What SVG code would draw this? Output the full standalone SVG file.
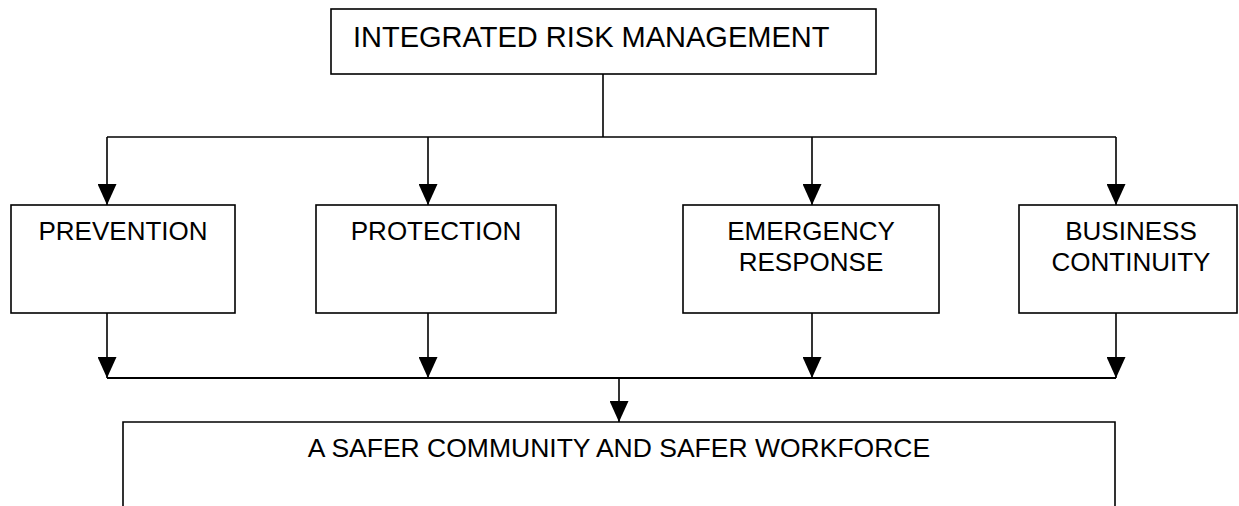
<svg xmlns="http://www.w3.org/2000/svg" width="1239" height="506" viewBox="0 0 1239 506">
  <style>
    .box { fill: #ffffff; stroke: #000000; stroke-width: 1.6; }
    .lbl { font-family: "Liberation Sans", Arial, sans-serif; font-size: 26px; fill: #000000; text-anchor: middle; }
    .wire { fill: none; stroke: #000000; stroke-width: 1.6; }
    .bus { fill: none; stroke: #000000; stroke-width: 2; }
  </style>
  <defs>
    <marker id="arrow" viewBox="0 0 21 19" refX="21" refY="9.5" markerWidth="21" markerHeight="19" markerUnits="userSpaceOnUse" orient="auto">
      <path d="M0,0 L21,9.5 L0,19 Z" fill="#000000"/>
    </marker>
  </defs>
  <rect width="1239" height="506" fill="#ffffff"/>

  <g id="connectors">
    <!-- trunk from the top box down to the distribution bar -->
    <line class="wire" x1="603" y1="74" x2="603" y2="137"/>
    <line class="wire" x1="107" y1="137" x2="1116" y2="137"/>
    <line class="wire" x1="107" y1="137" x2="107" y2="205" marker-end="url(#arrow)"/>
    <line class="wire" x1="428" y1="137" x2="428" y2="205" marker-end="url(#arrow)"/>
    <line class="wire" x1="812" y1="137" x2="812" y2="205" marker-end="url(#arrow)"/>
    <line class="wire" x1="1116" y1="137" x2="1116" y2="205" marker-end="url(#arrow)"/>
    <!-- outputs of the four pillars into the collecting bar -->
    <line class="wire" x1="107" y1="313" x2="107" y2="378" marker-end="url(#arrow)"/>
    <line class="wire" x1="428" y1="313" x2="428" y2="378" marker-end="url(#arrow)"/>
    <line class="wire" x1="812" y1="313" x2="812" y2="378" marker-end="url(#arrow)"/>
    <line class="wire" x1="1116" y1="313" x2="1116" y2="378" marker-end="url(#arrow)"/>
    <line class="bus" x1="107" y1="378" x2="1116" y2="378"/>
    <line class="wire" x1="619" y1="378" x2="619" y2="422" marker-end="url(#arrow)"/>
  </g>

  <g id="integrated-risk-management">
    <rect class="box" x="331" y="9" width="545" height="65"/>
    <text x="353" y="47" style="font-family:'Liberation Sans', Arial, sans-serif; font-size:29px; fill:#000000">INTEGRATED RISK MANAGEMENT</text>
  </g>

  <g id="prevention">
    <rect class="box" x="11" y="205" width="224" height="108"/>
    <text class="lbl" x="123" y="240">PREVENTION</text>
  </g>

  <g id="protection">
    <rect class="box" x="316" y="205" width="240" height="108"/>
    <text class="lbl" x="436" y="240">PROTECTION</text>
  </g>

  <g id="emergency-response">
    <rect class="box" x="683" y="205" width="256" height="108"/>
    <text class="lbl" x="811" y="240">EMERGENCY</text>
    <text class="lbl" x="811" y="271">RESPONSE</text>
  </g>

  <g id="business-continuity">
    <rect class="box" x="1019" y="205" width="218" height="108"/>
    <text class="lbl" x="1131" y="240">BUSINESS</text>
    <text class="lbl" x="1131" y="271">CONTINUITY</text>
  </g>

  <g id="safer-community">
    <path class="box" d="M123,520 V422 H1115 V520"/>
    <text class="lbl" x="619" y="457" style="font-size:26.5px">A SAFER COMMUNITY AND SAFER WORKFORCE</text>
  </g>
</svg>
